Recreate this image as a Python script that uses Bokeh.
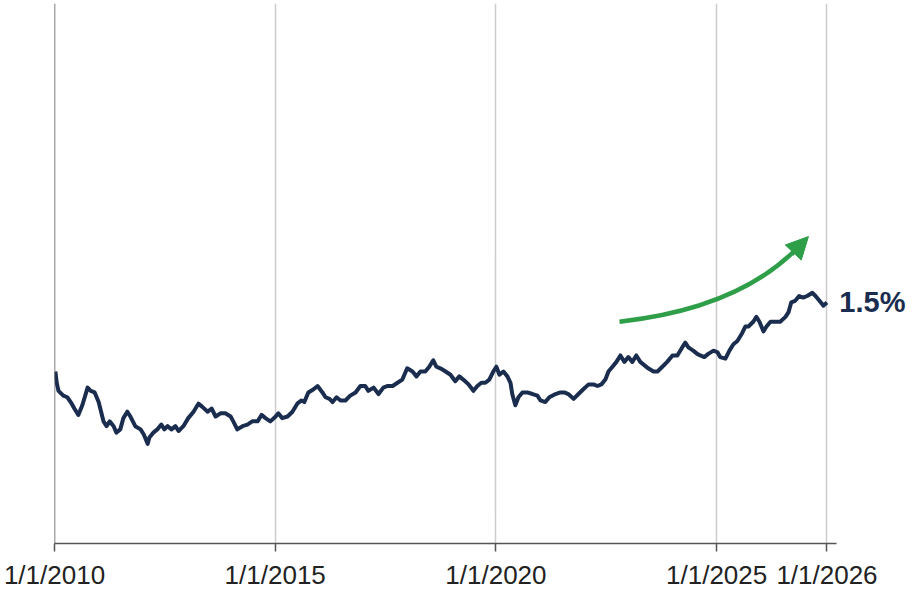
from bokeh.plotting import figure
from bokeh.models import Range1d, FixedTicker, Span, Label, Arrow, NormalHead, ColumnDataSource
from bokeh.embed import file_html
from bokeh.resources import INLINE

# x: years since 1/1/2010 (position on the chart's axis), y: value in %
years = [0.02, 0.05, 0.09, 0.20, 0.29, 0.39, 0.45, 0.54, 0.63, 0.75, 0.82, 0.91, 1.00, 1.11, 1.18, 1.25,
         1.34, 1.40, 1.49, 1.56, 1.65, 1.72, 1.83, 1.95, 2.02, 2.11, 2.15, 2.24, 2.33, 2.42, 2.49, 2.56,
         2.65, 2.74, 2.81, 2.92, 3.03, 3.15, 3.26, 3.35, 3.47, 3.56, 3.65, 3.76, 3.87, 3.99, 4.05, 4.14,
         4.26, 4.37, 4.48, 4.60, 4.69, 4.78, 4.89, 5.01, 5.07, 5.16, 5.28, 5.39, 5.50, 5.59, 5.66, 5.75,
         5.87, 5.96, 6.07, 6.14, 6.23, 6.30, 6.39, 6.48, 6.59, 6.70, 6.82, 6.93, 7.04, 7.11, 7.23, 7.34,
         7.45, 7.54, 7.66, 7.77, 7.88, 7.99, 8.11, 8.20, 8.29, 8.40, 8.49, 8.58, 8.65, 8.74, 8.86, 8.97,
         9.08, 9.17, 9.26, 9.38, 9.49, 9.58, 9.67, 9.76, 9.85, 9.94, 10.01, 10.08, 10.17, 10.26, 10.33,
         10.37, 10.44, 10.51, 10.60, 10.71, 10.83, 10.94, 11.01, 11.12, 11.21, 11.35, 11.46, 11.55, 11.64,
         11.76, 11.87, 11.98, 12.10, 12.21, 12.30, 12.39, 12.48, 12.55, 12.64, 12.73, 12.82, 12.91, 13.00,
         13.09, 13.18, 13.27, 13.36, 13.45, 13.57, 13.66, 13.77, 13.88, 14.00, 14.11, 14.22, 14.29, 14.36,
         14.47, 14.56, 14.63, 14.72, 14.81, 14.93, 15.02, 15.08, 15.20, 15.29, 15.38, 15.47, 15.58, 15.65,
         15.72, 15.83, 15.90, 15.97, 16.06, 16.13, 16.22, 16.33, 16.44, 16.56, 16.63, 16.69, 16.78, 16.87,
         16.96, 17.05, 17.17, 17.24, 17.33, 17.42, 17.50]

values = [1.07, 1.00, 0.95, 0.92, 0.91, 0.87, 0.84, 0.80, 0.86, 0.97, 0.95, 0.94, 0.88, 0.76, 0.73, 0.76,
          0.73, 0.69, 0.71, 0.78, 0.82, 0.79, 0.73, 0.71, 0.68, 0.62, 0.66, 0.69, 0.71, 0.74, 0.71, 0.73,
          0.71, 0.73, 0.70, 0.73, 0.78, 0.82, 0.87, 0.85, 0.82, 0.84, 0.79, 0.81, 0.81, 0.79, 0.76, 0.71,
          0.73, 0.74, 0.76, 0.76, 0.80, 0.78, 0.76, 0.79, 0.81, 0.78, 0.79, 0.82, 0.87, 0.89, 0.88, 0.94,
          0.96, 0.98, 0.94, 0.91, 0.90, 0.88, 0.91, 0.89, 0.89, 0.92, 0.94, 0.98, 0.98, 0.95, 0.97, 0.93,
          0.97, 0.98, 0.98, 1.00, 1.02, 1.09, 1.07, 1.04, 1.07, 1.07, 1.10, 1.14, 1.10, 1.09, 1.07, 1.05,
          1.01, 1.04, 1.02, 0.99, 0.95, 0.98, 1.00, 1.00, 1.02, 1.07, 1.10, 1.05, 1.07, 1.04, 1.00,
          0.93, 0.86, 0.91, 0.94, 0.94, 0.93, 0.92, 0.89, 0.88, 0.91, 0.93, 0.94, 0.94, 0.93,
          0.90, 0.93, 0.96, 0.99, 0.99, 0.98, 0.99, 1.02, 1.07, 1.10, 1.13, 1.17, 1.13, 1.16,
          1.13, 1.17, 1.13, 1.11, 1.09, 1.07, 1.07, 1.10, 1.13, 1.17, 1.17, 1.22, 1.25, 1.22,
          1.20, 1.18, 1.17, 1.16, 1.18, 1.20, 1.19, 1.16, 1.15, 1.20, 1.24, 1.26, 1.31, 1.35,
          1.35, 1.38, 1.41, 1.38, 1.32, 1.35, 1.38, 1.38, 1.38, 1.41, 1.44, 1.50, 1.51, 1.54,
          1.53, 1.54, 1.56, 1.54, 1.51, 1.48, 1.50]

tick_pos = [0, 5, 10, 15, 17.5]
tick_labels = ["1/1/2010", "1/1/2015", "1/1/2020", "1/1/2025", "1/1/2026"]
end_label = "1.5%"

NAVY = "#1b2d4f"
GREEN = "#2e9e48"

p = figure(width=913, height=592, output_backend="svg", toolbar_location=None,
           x_range=Range1d(0, 19.46), y_range=Range1d(0, 3.36),
           min_border_left=54, min_border_right=0, min_border_top=3, min_border_bottom=40)
p.outline_line_color = None
p.background_fill_color = "white"
p.border_fill_color = "white"

p.yaxis.visible = False
p.ygrid.visible = False

p.xaxis.ticker = FixedTicker(ticks=tick_pos)
p.xaxis.bounds = (0, 17.71)
p.xaxis.major_label_overrides = {t: l for t, l in zip(tick_pos, tick_labels)}
p.xaxis.minor_tick_line_color = None
p.xaxis.major_tick_in = 0
p.xaxis.major_tick_out = 8
p.xaxis.major_tick_line_color = "#555555"
p.xaxis.major_tick_line_width = 1.5
p.xaxis.axis_line_color = "#555555"
p.xaxis.axis_line_width = 1.5
p.xaxis.major_label_text_font = "Liberation Sans"
p.xaxis.major_label_text_font_size = "26px"
p.xaxis.major_label_text_color = "#222222"
p.xaxis.major_label_standoff = 8

p.xgrid.grid_line_color = "#cccccc"
p.xgrid.grid_line_width = 1.5

p.add_layout(Span(location=0, dimension="height", line_color="#555555", line_width=1.5))

src = ColumnDataSource(dict(x=years, y=values))
p.line("x", "y", source=src, line_color=NAVY, line_width=4, line_join="round")

# green trend arrow
p.quadratic(x0=[12.80], y0=[1.38], x1=[16.76], y1=[1.82], cx=[15.42], cy=[1.46],
            line_color=GREEN, line_width=4.5)
p.add_layout(Arrow(x_start=16.70, y_start=1.80, x_end=17.08, y_end=1.91,
                   line_color=GREEN, line_width=4.5,
                   end=NormalHead(size=22, fill_color=GREEN, line_color=GREEN, line_width=1)))

p.add_layout(Label(x=17.78, y=1.50, text=end_label, text_baseline="middle", text_align="left",
                   text_font="Liberation Sans", text_font_size="29px", text_font_style="bold",
                   text_color=NAVY))

open("out.html", "w").write(file_html(p, INLINE))
